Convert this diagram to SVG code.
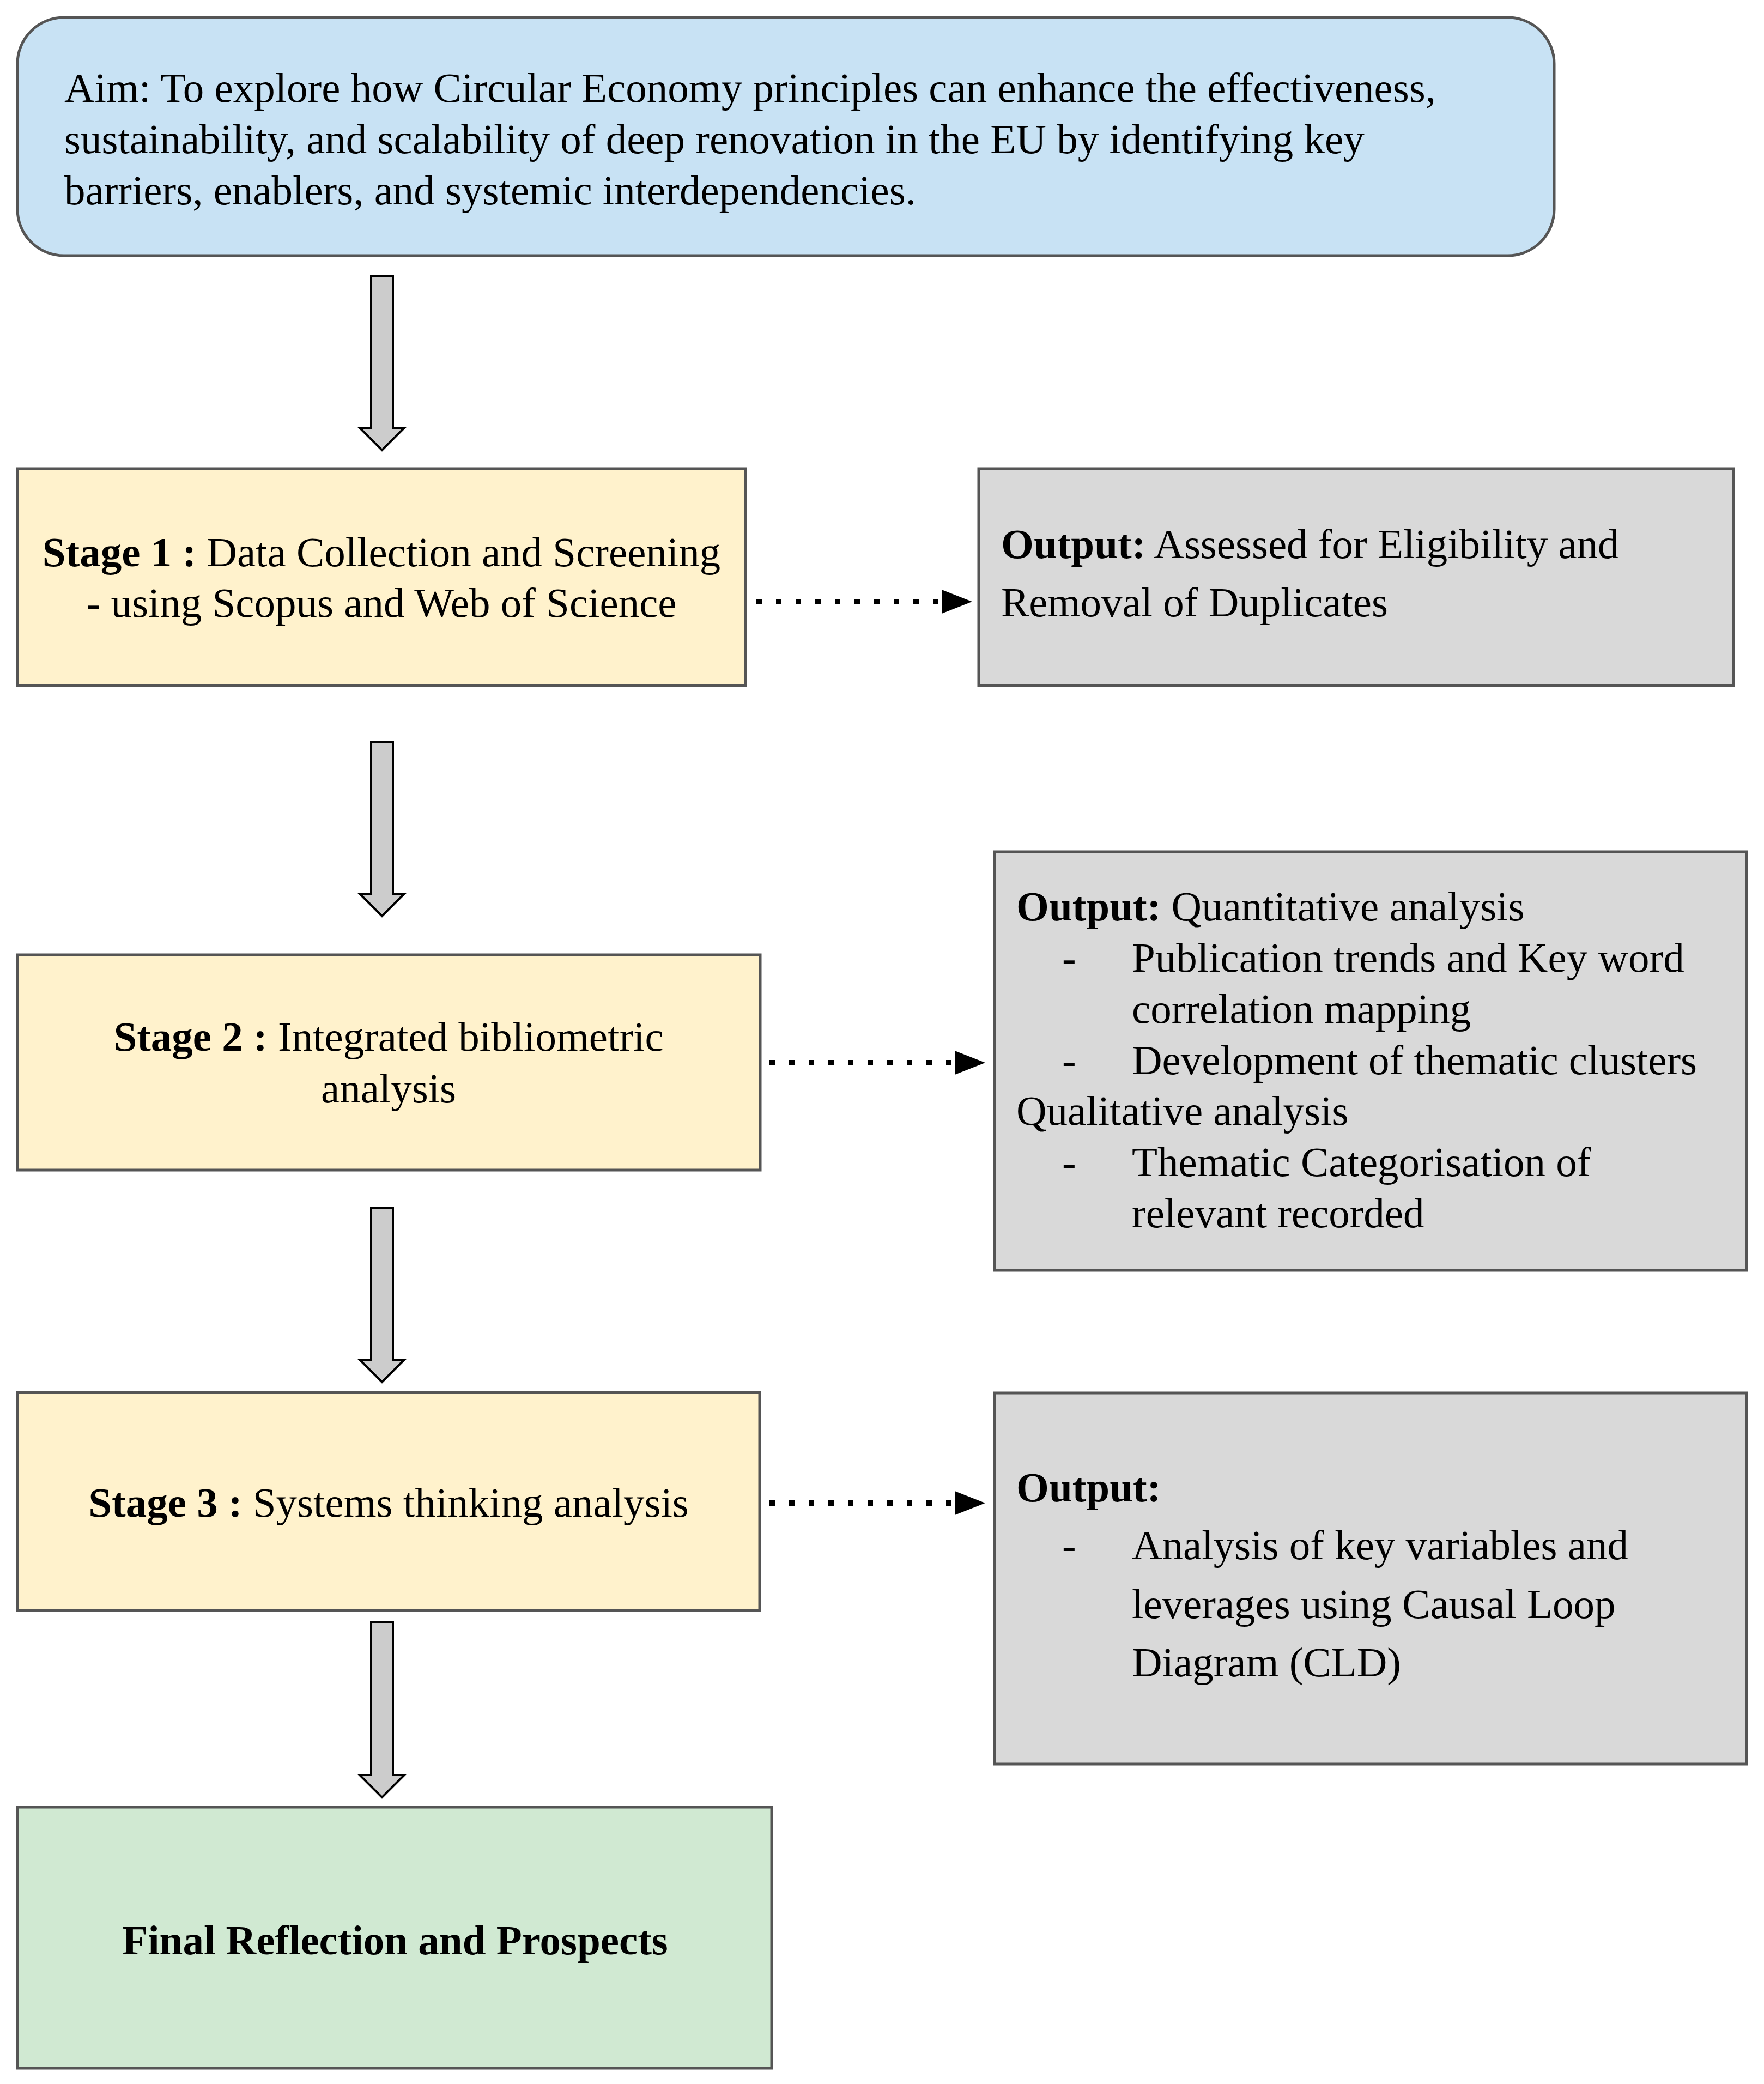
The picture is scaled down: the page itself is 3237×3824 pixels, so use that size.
<svg xmlns="http://www.w3.org/2000/svg" width="3237" height="3824" viewBox="0 0 3237 3824">
<style>
.box{stroke:#555555;stroke-width:5}
.aim{fill:#c8e2f4}
.stage{fill:#fff2cc}
.out{fill:#d9d9d9}
.fin{fill:#d0e9d2}
text{font-family:"Liberation Serif","Times New Roman",serif;font-size:77px;fill:#000}
.b{font-weight:bold}
.blk{fill:#cccccc;stroke:#000;stroke-width:4;stroke-linejoin:miter}
.dot{stroke:#000;stroke-width:10;stroke-dasharray:10 26;fill:none}
.mid{text-anchor:middle}
</style>
<defs>
<marker id="ah" markerUnits="userSpaceOnUse" markerWidth="60" markerHeight="44" refX="0" refY="22" orient="auto">
<path d="M0,0 L56,22 L0,44 Z" fill="#000"/>
</marker>
</defs>
<rect width="3237" height="3824" fill="#fff"/>
<g id="aim">
<rect class="box aim" x="32" y="32" width="2820" height="437" rx="85" ry="85"/>
<text x="118" y="187">Aim: To explore how Circular Economy principles can enhance the effectiveness,</text>
<text x="118" y="281">sustainability, and scalability of deep renovation in the EU by identifying key</text>
<text x="118" y="375">barriers, enablers, and systemic interdependencies.</text>
</g>
<g id="stage1">
<rect class="box stage" x="32" y="860" width="1336" height="398"/>
<text class="mid" x="700" y="1039"><tspan class="b">Stage 1 :</tspan> Data Collection and Screening</text>
<text class="mid" x="700" y="1132">- using Scopus and Web of Science</text>
</g>
<g id="output1">
<rect class="box out" x="1796" y="860" width="1385" height="398"/>
<text x="1837" y="1024"><tspan class="b">Output:</tspan> Assessed for Eligibility and</text>
<text x="1837" y="1131">Removal of Duplicates</text>
</g>
<g id="stage2">
<rect class="box stage" x="32" y="1752" width="1363" height="395"/>
<text class="mid" x="713" y="1928"><tspan class="b">Stage 2 :</tspan> Integrated bibliometric</text>
<text class="mid" x="713" y="2023">analysis</text>
</g>
<g id="output2">
<rect class="box out" x="1825" y="1563" width="1380" height="768"/>
<text x="1865" y="1689"><tspan class="b">Output:</tspan> Quantitative analysis</text>
<text x="1949" y="1783">-</text>
<text x="2077" y="1783">Publication trends and Key word</text>
<text x="2077" y="1877">correlation mapping</text>
<text x="1949" y="1971">-</text>
<text x="2077" y="1971">Development of thematic clusters</text>
<text x="1865" y="2064">Qualitative analysis</text>
<text x="1949" y="2158">-</text>
<text x="2077" y="2158">Thematic Categorisation of</text>
<text x="2077" y="2252">relevant recorded</text>
</g>
<g id="stage3">
<rect class="box stage" x="32" y="2555" width="1362" height="400"/>
<text class="mid" x="713" y="2783"><tspan class="b">Stage 3 :</tspan> Systems thinking analysis</text>
</g>
<g id="output3">
<rect class="box out" x="1825" y="2556" width="1380" height="681"/>
<text class="b" x="1865" y="2755">Output:</text>
<text x="1949" y="2861">-</text>
<text x="2077" y="2861">Analysis of key variables and</text>
<text x="2077" y="2969">leverages using Causal Loop</text>
<text x="2077" y="3076">Diagram (CLD)</text>
</g>
<g id="final">
<rect class="box fin" x="32" y="3316" width="1384" height="479"/>
<text class="mid b" x="725" y="3586">Final Reflection and Prospects</text>
</g>
<g id="connectors">
<path class="blk" d="M681,506 H721 V785 H742 L701,826 L660,785 H681 Z"/>
<path class="blk" d="M681,1361 H721 V1640 H742 L701,1681 L660,1640 H681 Z"/>
<path class="blk" d="M681,2216 H721 V2495 H742 L701,2536 L660,2495 H681 Z"/>
<path class="blk" d="M681,2976 H721 V3257 H742 L701,3298 L660,3257 H681 Z"/>
<path class="dot" d="M1388,1104 H1728" marker-end="url(#ah)"/>
<path class="dot" d="M1412,1950 H1752" marker-end="url(#ah)"/>
<path class="dot" d="M1412,2758 H1752" marker-end="url(#ah)"/>
</g>
</svg>
